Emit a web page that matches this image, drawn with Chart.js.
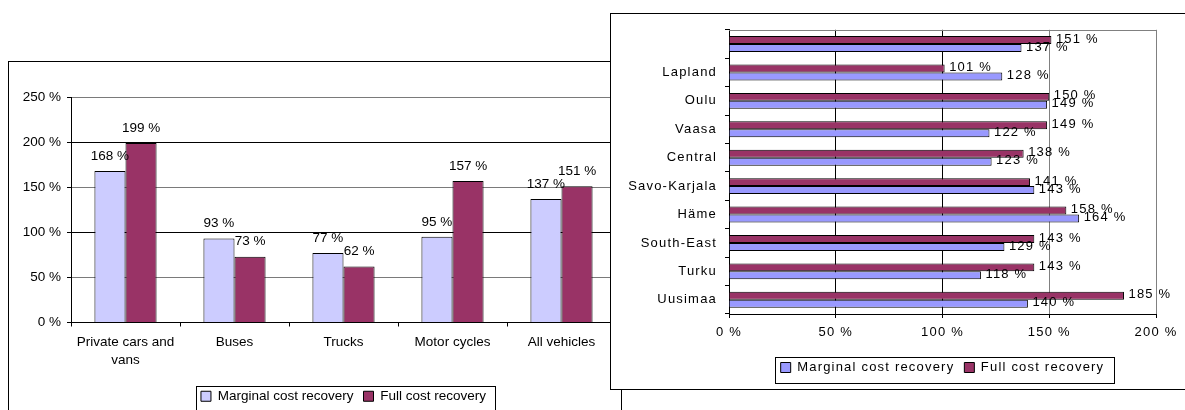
<!DOCTYPE html>
<html>
<head>
<meta charset="utf-8">
<script src="https://cdn.jsdelivr.net/npm/chart.js@4.4.1/dist/chart.umd.min.js"></script>
<style>
  html, body { margin: 0; padding: 0; background: #fff; }
  body { width: 1185px; height: 410px; position: relative; overflow: hidden; }
  #lbox { position: absolute; left: 8px; top: 61px; width: 612px; height: 400px; border: 1px solid #000; background: #fff; }
  #c1 { position: absolute; left: 9px; top: 62px; }
  #rbox { position: absolute; left: 610px; top: 13px; width: 600px; height: 375px; border: 1px solid #000; background: #fff; z-index: 2; }
  #c2 { position: absolute; left: 0; top: 0; }
</style>
</head>
<body>
<div id="lbox"></div>
<canvas id="c1" width="611" height="360"></canvas>
<div id="rbox"><canvas id="c2" width="574" height="375"></canvas></div>
<script>
// ---- data: left chart (vehicle types) ----
const leftCategories = [['Private cars and', 'vans'], 'Buses', 'Trucks', 'Motor cycles', 'All vehicles'];
const leftMarginal = [168, 93, 77, 95, 137];
const leftFull = [199, 73, 62, 157, 151];
const leftTickLabels = ['0 %', '50 %', '100 %', '150 %', '200 %', '250 %'];

// ---- data: right chart (regions, top to bottom) ----
const regions = ['', 'Lapland', 'Oulu', 'Vaasa', 'Central', 'Savo-Karjala', 'Häme', 'South-East', 'Turku', 'Uusimaa'];
const regionFull = [151, 101, 150, 149, 138, 141, 158, 143, 143, 185];
const regionMarginal = [137, 128, 149, 122, 123, 143, 164, 129, 118, 140];
const rightTickLabels = ['0 %', '50 %', '100 %', '150 %', '200 %'];

const seriesNames = ['Marginal cost recovery', 'Full cost recovery'];

const FONT = '"Liberation Sans", Arial, Helvetica, sans-serif';
Chart.defaults.font.family = FONT;
Chart.defaults.color = '#000';

const valueLabels = {
  id: 'valueLabels',
  afterDatasetsDraw(chart, args, opts) {
    const ctx = chart.ctx;
    ctx.save();
    if (opts.spacing) ctx.letterSpacing = opts.spacing;
    ctx.font = opts.size + 'px ' + FONT;
    ctx.fillStyle = '#000';
    ctx.textBaseline = 'middle';
    chart.data.datasets.forEach((ds, i) => {
      const meta = chart.getDatasetMeta(i);
      meta.data.forEach((bar, j) => {
        const txt = ds.data[j] + ' %';
        if (opts.horizontal) {
          ctx.textAlign = 'left';
          ctx.fillText(txt, bar.x + opts.dx, bar.y + opts.dy);
        } else {
          ctx.textAlign = 'center';
          ctx.fillText(txt, bar.x, bar.y - opts.dy);
        }
      });
    });
    ctx.restore();
  }
};

const legendFrame = {
  id: 'legendFrame',
  afterDraw(chart, args, opts) {
    const boxes = chart.legend && chart.legend.legendHitBoxes;
    if (!boxes || !boxes.length) return;
    let l = Infinity, r = -Infinity, t = Infinity, b = -Infinity;
    boxes.forEach(h => {
      l = Math.min(l, h.left); r = Math.max(r, h.left + h.width);
      t = Math.min(t, h.top); b = Math.max(b, h.top + h.height);
    });
    const ctx = chart.ctx;
    ctx.save();
    ctx.strokeStyle = '#000';
    ctx.lineWidth = 1;
    const x0 = Math.round(l - opts.padL) + 0.5, y0 = Math.round(t - opts.padT) + 0.5;
    const x1 = Math.round(r + opts.padR) + 0.5, y1 = Math.round(b + opts.padB) + 0.5;
    ctx.strokeRect(x0, y0, x1 - x0, y1 - y0);
    ctx.restore();
  }
};

const plotTopBorder = {
  id: 'plotTopBorder',
  afterDraw(chart, args, opts) {
    if (!opts.enabled) return;
    const a = chart.chartArea, ctx = chart.ctx;
    ctx.save();
    ctx.strokeStyle = '#808080';
    ctx.lineWidth = 1;
    ctx.beginPath();
    ctx.moveTo(a.left, Math.round(a.top) + 0.5);
    ctx.lineTo(a.right, Math.round(a.top) + 0.5);
    ctx.stroke();
    ctx.restore();
  }
};

const spacing = {
  id: 'spacing',
  beforeUpdate(chart, args, opts) { chart.ctx.letterSpacing = opts.value; },
  beforeLayout(chart, args, opts) { chart.ctx.letterSpacing = opts.value; },
  beforeDraw(chart, args, opts) { chart.ctx.letterSpacing = opts.value; }
};

// ---------- Left chart ----------
new Chart(document.getElementById('c1'), {
  type: 'bar',
  data: {
    labels: leftCategories,
    datasets: [
      { label: seriesNames[0], data: leftMarginal, backgroundColor: '#CCCCFF', borderColor: '#000', borderWidth: 1 },
      { label: seriesNames[1], data: leftFull, backgroundColor: '#993366', borderColor: '#000', borderWidth: 1 }
    ]
  },
  plugins: [valueLabels, legendFrame],
  options: {
    responsive: false,
    animation: false,
    categoryPercentage: 0.57,
    barPercentage: 1,
    layout: { padding: { top: 35, right: 4, left: 0, bottom: 9 } },
    scales: {
      x: {
        grid: { offset: true, drawOnChartArea: false, drawTicks: true, tickLength: 4, color: '#000', tickColor: '#000' },
        border: { color: '#000', width: 1 },
        ticks: { font: { size: 13.5, lineHeight: 1.333 }, padding: 7, maxRotation: 0, autoSkip: false },
        afterFit: s => { s.height = 57; }
      },
      y: {
        min: 0, max: 250,
        grid: {
          color: c => (c.tick && c.tick.value % 100 === 0) ? '#000' : '#7a7a7a',
          tickColor: '#000', tickLength: 4, drawTicks: true
        },
        border: { color: '#000', width: 1 },
        ticks: { stepSize: 50, font: { size: 13.5 }, padding: 6, callback: v => leftTickLabels[v / 50] },
        afterFit: s => { s.width = 62; }
      }
    },
    plugins: {
      legend: {
        position: 'bottom',
        fullSize: false,
        labels: { boxWidth: 10, boxHeight: 10, padding: 10, font: { size: 13.5 }, color: '#000' }
      },
      tooltip: { enabled: false },
      valueLabels: { horizontal: false, size: 13.5, dy: 15 },
      legendFrame: { padL: 5, padR: 9, padT: 4, padB: 9 }
    }
  }
});

// ---------- Right chart ----------
new Chart(document.getElementById('c2'), {
  type: 'bar',
  data: {
    labels: regions,
    datasets: [
      { label: seriesNames[1], data: regionFull, backgroundColor: '#993366', borderColor: '#000', borderWidth: 1 },
      { label: seriesNames[0], data: regionMarginal, backgroundColor: '#9999FF', borderColor: '#000', borderWidth: 1 }
    ]
  },
  plugins: [spacing, valueLabels, legendFrame, plotTopBorder],
  options: {
    indexAxis: 'y',
    responsive: false,
    animation: false,
    categoryPercentage: 0.56,
    barPercentage: 1,
    layout: { padding: { top: 12, right: 29, left: 0, bottom: 5 } },
    scales: {
      x: {
        min: 0, max: 200,
        grid: {
          color: c => (c.tick && c.tick.value >= 150) ? '#808080' : '#000',
          tickColor: '#000', tickLength: 4, drawTicks: true
        },
        border: { color: '#000', width: 1 },
        ticks: { stepSize: 50, font: { size: 13 }, padding: 7, callback: v => rightTickLabels[v / 50] },
        afterFit: s => { s.height = 37; }
      },
      y: {
        grid: { offset: true, drawOnChartArea: false, drawTicks: true, tickLength: 4, color: '#000', tickColor: '#000' },
        border: { color: '#000', width: 1 },
        ticks: { font: { size: 13 }, padding: 8, autoSkip: false },
        afterFit: s => { s.width = 118; }
      }
    },
    plugins: {
      legend: {
        position: 'bottom',
        fullSize: false,
        reverse: true,
        labels: { boxWidth: 10, boxHeight: 10, padding: 10, font: { size: 13 }, color: '#000' }
      },
      tooltip: { enabled: false },
      spacing: { value: '1.2px' },
      valueLabels: { horizontal: true, size: 13, dx: 4.5, dy: -1, spacing: '1.2px' },
      legendFrame: { padL: 6, padR: 10, padT: 4, padB: 9 },
      plotTopBorder: { enabled: true }
    }
  }
});
</script>
</body>
</html>
